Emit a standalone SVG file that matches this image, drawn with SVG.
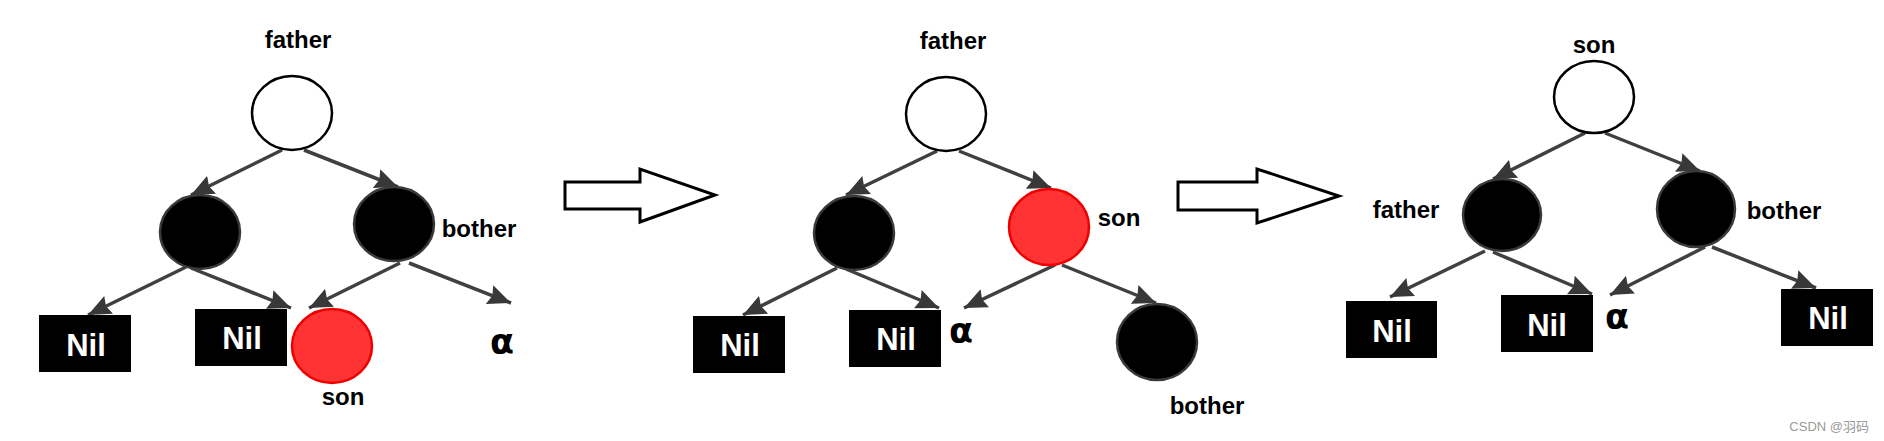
<svg xmlns="http://www.w3.org/2000/svg" width="1884" height="441" viewBox="0 0 1884 441">
<style>
.lbl{font-family:"Liberation Sans",Arial,sans-serif;font-weight:bold;font-size:24px;fill:#000;text-anchor:middle}
.nil{font-family:"Liberation Sans",Arial,sans-serif;font-weight:bold;font-size:31px;fill:#fff;text-anchor:middle}
.alpha{font-family:"DejaVu Sans","Liberation Sans",sans-serif;font-weight:bold;font-size:35px;fill:#000;text-anchor:middle}
.white{fill:#fff;stroke:#000;stroke-width:2.5}
.black{fill:#000;stroke:#3a3a3a;stroke-width:2.5}
.red{fill:#ff3333;stroke:#ee0000;stroke-width:2.5}
.box{fill:#000}
.edge{stroke:#404040;stroke-width:3.5;fill:none;marker-end:url(#ah)}
.hollow{fill:#fff;stroke:#000;stroke-width:3}
.wm{font-family:"Liberation Sans","Noto Sans CJK SC",sans-serif;font-size:13px;fill:#9a9a9a;text-anchor:end}
</style>
<defs>
<marker id="ah" markerUnits="userSpaceOnUse" markerWidth="24" markerHeight="22" refX="23" refY="11" orient="auto">
<path d="M0,1 L23,11 L0,21 L3,11 z" fill="#383838"/>
</marker>
</defs>
<rect width="1884" height="441" fill="#fff"/>

<g id="connectors">
<line class="edge" x1="282" y1="150" x2="191" y2="195"/>
<line class="edge" x1="304" y1="150" x2="398" y2="187"/>
<line class="edge" x1="186" y1="267" x2="88" y2="315"/>
<line class="edge" x1="191" y1="268" x2="291" y2="308"/>
<line class="edge" x1="400" y1="263" x2="309" y2="308"/>
<line class="edge" x1="409" y1="263" x2="511" y2="303"/>

<line class="edge" x1="937" y1="151" x2="846" y2="195"/>
<line class="edge" x1="959" y1="151" x2="1051" y2="188"/>
<line class="edge" x1="837" y1="268" x2="743" y2="315"/>
<line class="edge" x1="846" y1="269" x2="939" y2="308"/>
<line class="edge" x1="1055" y1="265" x2="964" y2="308"/>
<line class="edge" x1="1062" y1="265" x2="1156" y2="303"/>

<line class="edge" x1="1585" y1="133" x2="1493" y2="179"/>
<line class="edge" x1="1605" y1="133" x2="1700" y2="171"/>
<line class="edge" x1="1485" y1="251" x2="1390" y2="297"/>
<line class="edge" x1="1493" y1="252" x2="1592" y2="294"/>
<line class="edge" x1="1705" y1="247" x2="1610" y2="295"/>
<line class="edge" x1="1712" y1="247" x2="1816" y2="288"/>

<polygon id="step1" class="hollow" points="565,182 640,182 640,169 715,195 640,222 640,209 565,209"/>
<polygon id="step2" class="hollow" points="1178,182 1257,182 1257,169 1339,196 1257,223 1257,210 1178,210"/>
</g>

<!-- Tree 1 -->
<g id="t1-father"><ellipse class="white" cx="292" cy="113" rx="40" ry="37"/><text class="lbl" x="298" y="48">father</text></g>
<g id="t1-left"><ellipse class="black" cx="200" cy="232" rx="40" ry="37"/></g>
<g id="t1-bother"><ellipse class="black" cx="394" cy="224" rx="40" ry="37"/><text class="lbl" x="479" y="237">bother</text></g>
<g id="t1-nil1"><rect class="box" x="39" y="315" width="92" height="57"/><text class="nil" x="86" y="356">Nil</text></g>
<g id="t1-nil2"><rect class="box" x="195" y="309" width="92" height="57"/><text class="nil" x="242" y="349">Nil</text></g>
<g id="t1-son"><ellipse class="red" cx="332" cy="346" rx="40" ry="37"/><text class="lbl" x="343" y="405">son</text></g>
<g id="t1-alpha"><text class="alpha" x="502" y="354">α</text></g>

<!-- Tree 2 -->
<g id="t2-father"><ellipse class="white" cx="946" cy="114" rx="40" ry="37"/><text class="lbl" x="953" y="49">father</text></g>
<g id="t2-left"><ellipse class="black" cx="854" cy="233" rx="40" ry="37"/></g>
<g id="t2-son"><ellipse class="red" cx="1049" cy="227" rx="40" ry="38"/><text class="lbl" x="1119" y="226">son</text></g>
<g id="t2-nil1"><rect class="box" x="693" y="316" width="92" height="57"/><text class="nil" x="740" y="356">Nil</text></g>
<g id="t2-nil2"><rect class="box" x="849" y="310" width="92" height="57"/><text class="nil" x="896" y="350">Nil</text></g>
<g id="t2-alpha"><text class="alpha" x="961" y="343">α</text></g>
<g id="t2-bother"><ellipse class="black" cx="1157" cy="342" rx="40" ry="38"/><text class="lbl" x="1207" y="414">bother</text></g>

<!-- Tree 3 -->
<g id="t3-son"><ellipse class="white" cx="1594" cy="97" rx="40" ry="36"/><text class="lbl" x="1594" y="53">son</text></g>
<g id="t3-father"><ellipse class="black" cx="1502" cy="215" rx="39" ry="36"/><text class="lbl" x="1406" y="218">father</text></g>
<g id="t3-bother"><ellipse class="black" cx="1696" cy="209" rx="39" ry="38"/><text class="lbl" x="1784" y="219">bother</text></g>
<g id="t3-nil1"><rect class="box" x="1346" y="301" width="91" height="57"/><text class="nil" x="1392" y="342">Nil</text></g>
<g id="t3-nil2"><rect class="box" x="1501" y="295" width="92" height="57"/><text class="nil" x="1547" y="336">Nil</text></g>
<g id="t3-alpha"><text class="alpha" x="1617" y="329">α</text></g>
<g id="t3-nil3"><rect class="box" x="1781" y="289" width="92" height="57"/><text class="nil" x="1828" y="329">Nil</text></g>

<text class="wm" x="1869" y="431">CSDN @羽码</text>
</svg>
